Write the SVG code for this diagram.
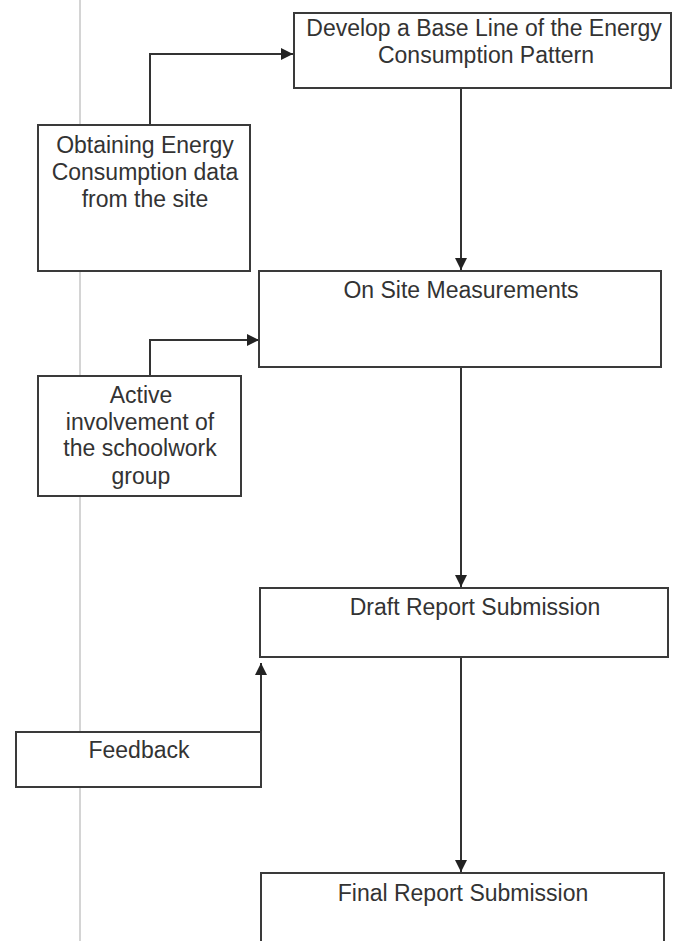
<svg xmlns="http://www.w3.org/2000/svg" width="684" height="941" viewBox="0 0 684 941">
<style>
.box{fill:#fff;stroke:#3a3a3a;stroke-width:2}
.lbl{font-family:"Liberation Sans",Arial,sans-serif;font-size:23px;fill:#333;text-anchor:middle}
.conn{fill:none;stroke:#333;stroke-width:2}
</style>
<defs>
<marker id="arr" viewBox="0 0 10 10" refX="10" refY="5" markerWidth="6" markerHeight="6" orient="auto" markerUnits="strokeWidth">
<path d="M0,0 L10,5 L0,10 z" fill="#222"/>
</marker>
</defs>
<rect width="684" height="941" fill="#fff"/>
<line x1="80" y1="0" x2="80" y2="941" stroke="#d4d4d4" stroke-width="2"/>
<g id="connectors">
<path class="conn" d="M150,125 V54 H293" marker-end="url(#arr)"/>
<path class="conn" d="M461,88 V270" marker-end="url(#arr)"/>
<path class="conn" d="M150,375 V340 H259" marker-end="url(#arr)"/>
<path class="conn" d="M461,367 V587" marker-end="url(#arr)"/>
<path class="conn" d="M261,732 V663" marker-end="url(#arr)"/>
<path class="conn" d="M461,657 V872" marker-end="url(#arr)"/>
</g>
<g id="develop">
<rect class="box" x="294" y="13" width="377" height="75"/>
<text class="lbl" x="484" y="36">Develop a Base Line of the Energy</text>
<text class="lbl" x="486" y="63">Consumption Pattern</text>
</g>
<g id="obtaining">
<rect class="box" x="38" y="125" width="212" height="146"/>
<text class="lbl" x="145" y="153">Obtaining Energy</text>
<text class="lbl" x="145" y="180">Consumption data</text>
<text class="lbl" x="145" y="207">from the site</text>
</g>
<g id="onsite">
<rect class="box" x="259" y="271" width="402" height="96"/>
<text class="lbl" x="461" y="298">On Site Measurements</text>
</g>
<g id="active">
<rect class="box" x="38" y="376" width="203" height="120"/>
<text class="lbl" x="141" y="403">Active</text>
<text class="lbl" x="140" y="430">involvement of</text>
<text class="lbl" x="140" y="456">the schoolwork</text>
<text class="lbl" x="141" y="484">group</text>
</g>
<g id="draft">
<rect class="box" x="260" y="588" width="408" height="69"/>
<text class="lbl" x="475" y="615">Draft Report Submission</text>
</g>
<g id="feedback">
<rect class="box" x="16" y="732" width="245" height="55"/>
<text class="lbl" x="139" y="758">Feedback</text>
</g>
<g id="final">
<rect class="box" x="261" y="873" width="403" height="80"/>
<text class="lbl" x="463" y="901">Final Report Submission</text>
</g>
</svg>
